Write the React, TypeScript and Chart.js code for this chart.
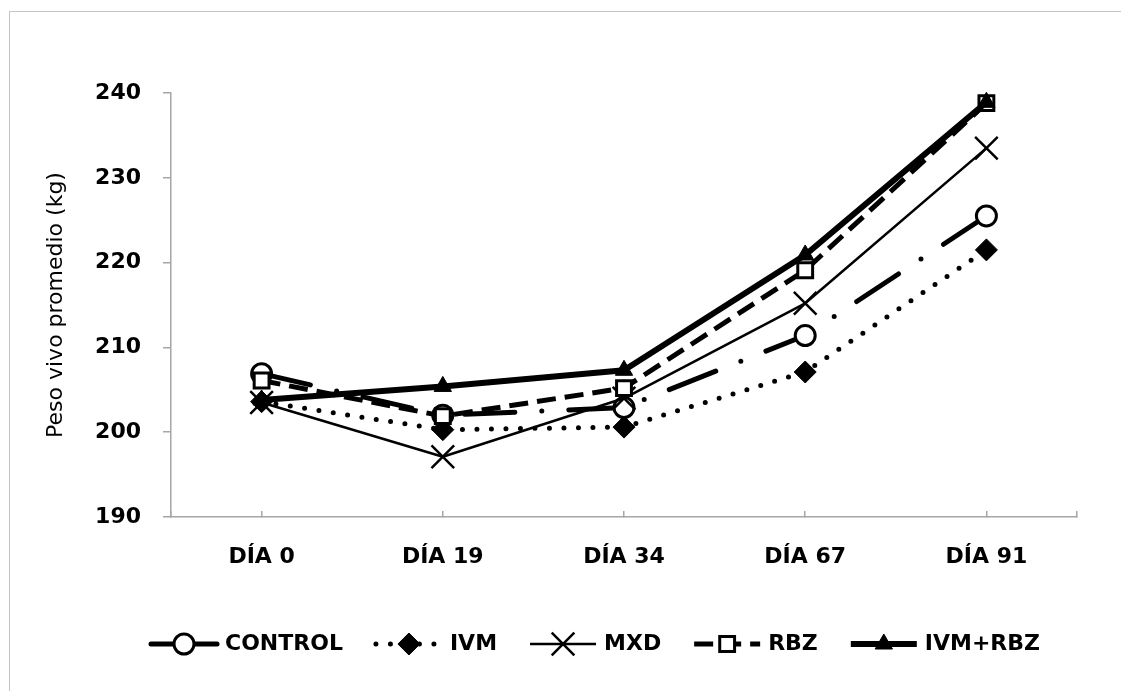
import React, { useEffect, useRef } from 'react';
import { Chart, registerables } from 'chart.js';
import { drawPoint } from 'chart.js/helpers';

Chart.register(...registerables);

// ---- data ----
const categories = ['DÍA 0', 'DÍA 19', 'DÍA 34', 'DÍA 67', 'DÍA 91'];
const seriesNames = ['CONTROL', 'IVM', 'MXD', 'RBZ', 'IVM+RBZ'];
const control = [206.9, 202.0, 202.9, 211.4, 225.5];
const ivm = [203.6, 200.3, 200.6, 207.1, 221.5];
const mxd = [203.5, 197.1, 204.0, 215.2, 233.5];
const rbz = [206.1, 201.9, 205.2, 219.1, 238.8];
const ivmRbz = [203.8, 205.4, 207.3, 220.9, 238.9];
const yTicks = [190, 200, 210, 220, 230, 240];
const yTitle = 'Peso vivo promedio (kg)';

// ---- styles ----
const FONT = 'DejaVu Sans';
const AXIS = '#a6a6a6';
const BLACK = '#000000';

const seriesValues = [control, ivm, mxd, rbz, ivmRbz];
const seriesStyles: any[] = [
  { borderWidth: 5, borderDash: [50, 27, 0, 27], legendDash: [], borderCapStyle: 'round', pointStyle: 'circle', pointRadius: 10, pointBorderWidth: 3, pointBackgroundColor: '#ffffff', order: 5 },
  { borderWidth: 5, borderDash: [0, 14.5], borderCapStyle: 'round', pointStyle: 'rectRot', pointRadius: 11, pointBorderWidth: 1, pointBackgroundColor: BLACK, order: 4 },
  { borderWidth: 2.5, borderDash: [], borderCapStyle: 'butt', pointStyle: 'crossRot', pointRadius: 16, pointBorderWidth: 2.5, pointBackgroundColor: BLACK, order: 3 },
  { borderWidth: 5, borderDash: [19, 9], borderCapStyle: 'butt', pointStyle: 'rect', pointRadius: 10.5, pointBorderWidth: 3, pointBackgroundColor: '#ffffff', order: 2 },
  { borderWidth: 6, borderDash: [], borderCapStyle: 'butt', pointStyle: 'triangle', pointRadius: 10, pointBorderWidth: 1, pointBackgroundColor: BLACK, order: 1 },
];

const LEGEND_X = 151;
const LEGEND_Y = 644;
const LINE_LEN = 66;
const TEXT_OFF = 74;
const SPACING = 33;

const legendPlugin = {
  id: 'customLegend',
  afterDraw(chart: any) {
    const ctx = chart.ctx as CanvasRenderingContext2D;
    ctx.save();
    let x = LEGEND_X;
    const y = LEGEND_Y;
    chart.data.datasets.forEach((ds: any) => {
      ctx.save();
      ctx.beginPath();
      ctx.lineWidth = ds.borderWidth;
      ctx.setLineDash(ds.legendDash ?? ds.borderDash ?? []);
      ctx.lineCap = ds.borderCapStyle ?? 'butt';
      ctx.strokeStyle = ds.borderColor;
      ctx.moveTo(x, y);
      ctx.lineTo(x + LINE_LEN, y);
      ctx.stroke();
      ctx.restore();

      ctx.save();
      ctx.setLineDash([]);
      ctx.fillStyle = ds.pointBackgroundColor;
      ctx.strokeStyle = ds.pointBorderColor;
      ctx.lineWidth = ds.pointBorderWidth;
      drawPoint(ctx, { pointStyle: ds.pointStyle, rotation: 0, radius: ds.pointRadius, borderWidth: ds.pointBorderWidth } as any, x + LINE_LEN / 2, y);
      ctx.restore();

      ctx.font = `bold 22px "${FONT}"`;
      ctx.fillStyle = BLACK;
      ctx.textBaseline = 'middle';
      ctx.textAlign = 'left';
      ctx.fillText(ds.label, x + TEXT_OFF, y);
      x += TEXT_OFF + ctx.measureText(ds.label).width + SPACING;
    });
    ctx.restore();
  },
};

export default function App() {
  const ref = useRef<HTMLCanvasElement | null>(null);

  useEffect(() => {
    if (!ref.current) return;
    const xTickValues = [-0.5, ...categories.map((_, i) => i), categories.length - 0.5];
    const chart = new Chart(ref.current, {
      type: 'line',
      data: {
        datasets: seriesNames.map((name, si) => ({
          label: name,
          data: seriesValues[si].map((v, i) => ({ x: i, y: v })),
          borderColor: BLACK,
          pointBorderColor: BLACK,
          borderJoinStyle: 'round',
          tension: 0,
          clip: false,
          ...seriesStyles[si],
        })) as any,
      },
      options: {
        animation: false,
        responsive: false,
        events: [],
        layout: { padding: { top: 93, left: 0, right: 44, bottom: 114 } },
        plugins: {
          legend: { display: false },
          tooltip: { enabled: false },
        },
        scales: {
          x: {
            type: 'linear',
            min: -0.5,
            max: categories.length - 0.5,
            afterBuildTicks: (s: any) => {
              s.ticks = xTickValues.map((v) => ({ value: v }));
            },
            afterFit: (s: any) => {
              s.height = 60;
            },
            ticks: {
              autoSkip: false,
              maxRotation: 0,
              padding: 33,
              color: BLACK,
              font: { family: FONT, size: 22, weight: 'bold' },
              callback: (v: any) => (Number.isInteger(v) ? categories[v] : ''),
            },
            grid: { drawOnChartArea: false, tickLength: -6, color: AXIS, lineWidth: 1.5 },
            border: { color: AXIS, width: 1.5 },
          },
          y: {
            type: 'linear',
            min: 190,
            max: 240,
            afterBuildTicks: (s: any) => {
              s.ticks = yTicks.map((v) => ({ value: v }));
            },
            afterFit: (s: any) => {
              s.width = 171;
            },
            ticks: {
              padding: 22,
              color: BLACK,
              font: { family: FONT, size: 22, weight: 'bold' },
            },
            grid: { drawOnChartArea: false, tickLength: 8, color: AXIS, lineWidth: 1.5 },
            border: { color: AXIS, width: 1.5 },
            title: {
              display: true,
              text: yTitle,
              color: BLACK,
              font: { family: FONT, size: 22, weight: 'normal' },
              padding: { top: 43, bottom: 0 },
            },
          },
        },
      } as any,
      plugins: [legendPlugin],
    });
    return () => chart.destroy();
  }, []);

  return (
    <div style={{ position: 'fixed', left: 0, top: 0, width: 1121, height: 691, overflow: 'hidden', background: '#ffffff' }}>
      <div style={{ position: 'absolute', left: 9, top: 11, width: 1300, height: 900, border: '1px solid #c4c4c4' }} />
      <canvas ref={ref} width={1121} height={691} style={{ position: 'absolute', left: 0, top: 0, width: 1121, height: 691 }} />
    </div>
  );
}
